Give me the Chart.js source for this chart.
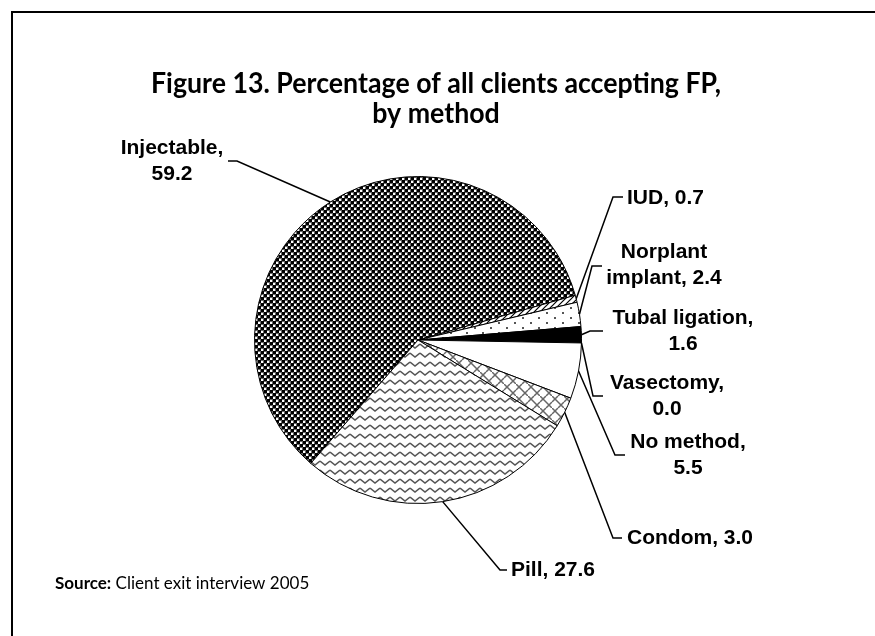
<!DOCTYPE html>
<html>
<head>
<meta charset="utf-8">
<script src="https://cdn.jsdelivr.net/npm/chart.js@4.4.1/dist/chart.umd.min.js"></script>
<style>
  html, body { margin: 0; padding: 0; background: #fff; }
  #wrap { width: 875px; height: 636px; }
</style>
</head>
<body>
<div id="wrap"><canvas id="fpChart" width="875" height="636"></canvas></div>
<script>
// Datos del gráfico
const methods = ['Injectable', 'IUD', 'Norplant implant', 'Tubal ligation', 'Vasectomy', 'No method', 'Condom', 'Pill'];
const percentages = [59.2, 0.7, 2.4, 1.6, 0.0, 5.5, 3.0, 27.6];

const titleLines = ['Figure 13. Percentage of all clients accepting FP,', 'by method'];
const sourceLabel = 'Source:';
const sourceText = ' Client exit interview 2005';

// Posición de las etiquetas (bend = codo de la línea guía, end = extremo junto al texto)
const labelLayout = [
    { wrap: 'comma', cx: 172, cy: 148, bend: [237, 161], end: [228, 161], align: 'center' },
    { wrap: 'none',  cx: 627, cy: 198, bend: [613, 197], end: [623, 197], align: 'left' },
    { wrap: 'word',  cx: 664, cy: 252, bend: [592, 266], end: [602, 266], align: 'center' },
    { wrap: 'comma', cx: 683, cy: 318, bend: [590, 331], end: [603, 331], align: 'center' },
    { wrap: 'comma', cx: 667, cy: 383, bend: [593, 396], end: [603, 396], align: 'center' },
    { wrap: 'comma', cx: 688, cy: 442, bend: [615, 455], end: [625, 455], align: 'center' },
    { wrap: 'none',  cx: 627, cy: 538, bend: [613, 538], end: [622, 538], align: 'left' },
    { wrap: 'none',  cx: 511, cy: 570, bend: [500, 570], end: [507, 570], align: 'left' }
];

// Tramas de relleno
function makePattern(w, h, draw) {
    const c = document.createElement('canvas');
    c.width = w; c.height = h;
    const g = c.getContext('2d');
    g.fillStyle = '#fff';
    g.fillRect(0, 0, w, h);
    draw(g);
    return document.createElement('canvas').getContext('2d').createPattern(c, 'repeat');
}

const checkPattern = makePattern(6, 6, g => {
    g.fillStyle = '#000';
    g.fillRect(0, 0, 3, 3);
    g.fillRect(3, 3, 3, 3);
    g.fillStyle = '#6a6a6a';
    g.fillRect(3, 0, 3, 1);
    g.fillRect(5, 1, 1, 2);
    g.fillRect(0, 3, 3, 1);
    g.fillRect(2, 4, 1, 2);
});
const stripePattern = makePattern(6, 6, g => {
    g.strokeStyle = '#000';
    g.lineWidth = 1.2;
    g.beginPath();
    g.moveTo(-1, 7); g.lineTo(7, -1);
    g.moveTo(-4, 4); g.lineTo(4, -4);
    g.moveTo(2, 10); g.lineTo(10, 2);
    g.stroke();
});
const dotPattern = makePattern(16, 10, g => {
    g.fillStyle = '#555';
    g.fillRect(2, 2, 2, 2);
    g.fillRect(10, 7, 2, 2);
});
const wavePattern = makePattern(10, 9, g => {
    g.strokeStyle = '#555';
    g.lineWidth = 1.6;
    g.beginPath();
    g.moveTo(0, 2); g.lineTo(5, 6); g.lineTo(10, 2);
    g.stroke();
});
const trellisPattern = makePattern(12, 12, g => {
    g.strokeStyle = '#666';
    g.lineWidth = 1.5;
    g.beginPath();
    g.moveTo(0, 0); g.lineTo(12, 12);
    g.moveTo(0, 6); g.lineTo(6, 0);
    g.moveTo(6, 12); g.lineTo(12, 6);
    g.stroke();
});

const sliceFills = [checkPattern, stripePattern, dotPattern, '#000', '#fff', '#fff', trellisPattern, wavePattern];

function labelLines(i) {
    const name = methods[i];
    const val = percentages[i].toFixed(1);
    const mode = labelLayout[i].wrap;
    if (mode === 'comma') return [name + ',', val];
    if (mode === 'word') {
        const sp = name.indexOf(' ');
        return [name.slice(0, sp), name.slice(sp + 1) + ', ' + val];
    }
    return [name + ', ' + val];
}

// Plugin para marco, título, etiquetas y fuente
const annotationsPlugin = {
    id: 'annotations',
    afterDraw(chart) {
        const ctx = chart.ctx;
        ctx.save();

        // marco
        ctx.strokeStyle = '#000';
        ctx.lineWidth = 2;
        ctx.beginPath();
        ctx.moveTo(12, 636);
        ctx.lineTo(12, 12);
        ctx.lineTo(875, 12);
        ctx.stroke();

        // título
        ctx.fillStyle = '#000';
        ctx.textBaseline = 'alphabetic';
        ctx.textAlign = 'center';
        ctx.font = 'bold 28px Lato';
        const w = ctx.measureText(titleLines[0]).width;
        const sx = Math.min(1, 570 / w);
        titleLines.forEach((t, k) => {
            ctx.save();
            ctx.translate(436, 93 + k * 30);
            ctx.scale(sx, 1);
            ctx.fillText(t, 0, 0);
            ctx.restore();
        });

        // etiquetas con líneas guía
        const meta = chart.getDatasetMeta(0);
        ctx.font = 'bold 21px "Liberation Sans", Arial, sans-serif';
        ctx.textBaseline = 'middle';
        meta.data.forEach((arc, i) => {
            const p = arc.getProps(['x', 'y', 'startAngle', 'endAngle', 'outerRadius'], true);
            const mid = (p.startAngle + p.endAngle) / 2;
            const ex = p.x + Math.cos(mid) * p.outerRadius;
            const ey = p.y + Math.sin(mid) * p.outerRadius;
            const L = labelLayout[i];
            ctx.strokeStyle = '#000';
            ctx.lineWidth = 1.5;
            ctx.beginPath();
            ctx.moveTo(ex, ey);
            ctx.lineTo(L.bend[0], L.bend[1]);
            ctx.lineTo(L.end[0], L.end[1]);
            ctx.stroke();

            ctx.textAlign = L.align;
            labelLines(i).forEach((t, k) => {
                ctx.fillText(t, L.cx, L.cy + k * 26);
            });
        });

        // fuente
        ctx.textAlign = 'left';
        ctx.textBaseline = 'alphabetic';
        ctx.font = 'bold 17px Lato';
        const sw = ctx.measureText(sourceLabel).width;
        ctx.font = '17px Lato';
        const tw = ctx.measureText(sourceText).width;
        const ssx = Math.min(1, 268 / (sw + tw));
        ctx.save();
        ctx.translate(55, 589);
        ctx.scale(ssx, 1);
        ctx.font = 'bold 17px Lato';
        ctx.fillText(sourceLabel, 0, 0);
        ctx.font = '17px Lato';
        ctx.fillText(sourceText, sw, 0);
        ctx.restore();

        ctx.restore();
    }
};

const ctxPie = document.getElementById('fpChart').getContext('2d');
const fpChart = new Chart(ctxPie, {
    type: 'pie',
    data: {
        labels: methods,
        datasets: [{
            data: percentages,
            backgroundColor: sliceFills,
            borderColor: '#000',
            borderWidth: 1,
            hoverOffset: 0
        }]
    },
    options: {
        responsive: false,
        animation: false,
        devicePixelRatio: 1,
        rotation: 221,
        layout: { padding: { left: 254, top: 176, right: 293, bottom: 132 } },
        plugins: {
            legend: { display: false },
            title: { display: false },
            tooltip: { enabled: false }
        }
    },
    plugins: [annotationsPlugin]
});
</script>
</body>
</html>
